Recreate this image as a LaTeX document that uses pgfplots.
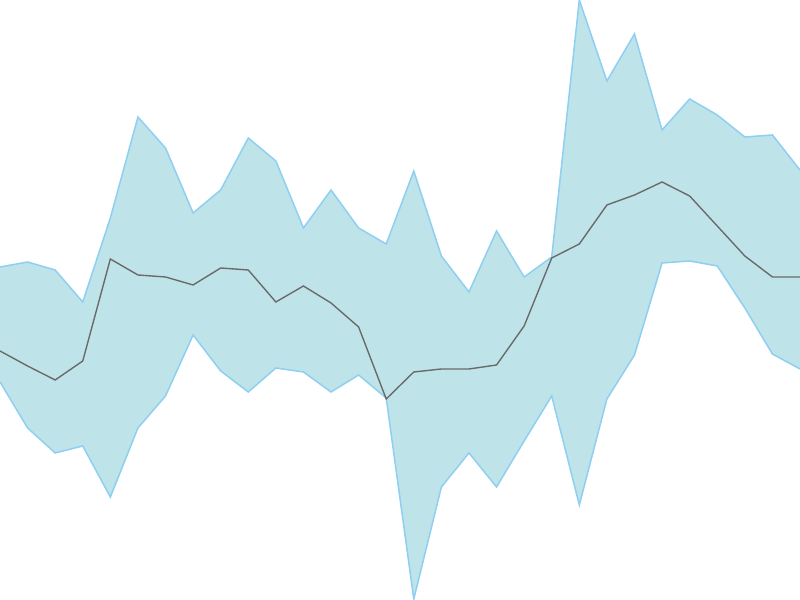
\documentclass[border=0pt]{standalone}
\usepackage{pgfplots}
\pgfplotsset{compat=1.18}
\usepgfplotslibrary{fillbetween}
\definecolor{bandfill}{HTML}{BEE3E9}
\definecolor{bandedge}{HTML}{8FD0F2}
\definecolor{midline}{HTML}{6A6A6A}
% values in picture units (0 = top, 600 = bottom)
\pgfplotstableread{
x up lo mid
0 267 382 351
1 262 428 366
2 270 453 380
3 302 446 361
4 218 497 259
5 117 428 275
6 148 396 277
7 213 335 285
8 190 371 268
9 138 392 270
10 161 368 302
11 228 372 286
12 190 392 303
13 228 375 327
14 244 398 399
15 171 599 372
16 256 487 369
17 292 453 369
18 231 487 365
19 277 441 326
20 257 396 258
21 0 505 244
22 81 399 205
23 34 355 195
24 130 263 182
25 99 261 196
26 115 266 226
27 137 308 256
28 135 354 277
29 170 369 277
}\bandtable
\begin{document}
\begin{tikzpicture}
\begin{axis}[
    width=8in, height=6in, scale only axis,
    hide axis,
    xmin=0, xmax=29,
    ymin=0, ymax=600, y dir=reverse,
    clip=true,
]
\path[use as bounding box] (rel axis cs:0,0) rectangle (rel axis cs:1,1);
\addplot[name path=up, draw=none] table[x=x, y=up] {\bandtable};
\addplot[name path=lo, draw=none] table[x=x, y=lo] {\bandtable};
\addplot[bandfill] fill between[of=up and lo];
\addplot[bandedge, line width=1.1pt] table[x=x, y=up] {\bandtable};
\addplot[bandedge, line width=1.1pt] table[x=x, y=lo] {\bandtable};
\addplot[midline, line width=1pt] table[x=x, y=mid] {\bandtable};
\end{axis}
\end{tikzpicture}
\end{document}
